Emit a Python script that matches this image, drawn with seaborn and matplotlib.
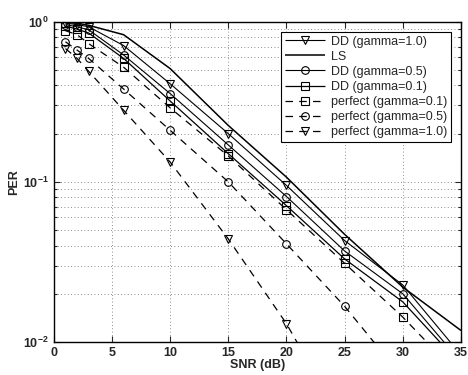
import numpy as np
import matplotlib
matplotlib.use("Agg")
import matplotlib.pyplot as plt
import seaborn as sns
from matplotlib.ticker import LogLocator, NullFormatter

sns.set_style("ticks")
plt.rcParams['font.family'] = ['Liberation Sans', 'DejaVu Sans']

snr = [1, 2, 3, 6, 10, 15, 20, 25, 30, 35]
dd_g10 = [0.98, 0.96, 0.93, 0.71, 0.41, 0.20, 0.095, 0.043, 0.0227, 0.0083]
ls = [0.99, 0.98, 0.95, 0.83, 0.51, 0.225, 0.107, 0.047, 0.022, 0.0118]
dd_g05 = [0.96, 0.93, 0.89, 0.62, 0.356, 0.17, 0.081, 0.037, 0.020, 0.0075]
dd_g01 = [0.94, 0.90, 0.85, 0.59, 0.32, 0.15, 0.071, 0.033, 0.0178, 0.0072]
pf_g01 = [0.88, 0.83, 0.73, 0.52, 0.29, 0.145, 0.067, 0.031, 0.0143, 0.006]
pf_g05 = [0.75, 0.665, 0.59, 0.38, 0.21, 0.10, 0.041, 0.0167, 0.006, 0.002]
pf_g10 = [0.68, 0.59, 0.49, 0.28, 0.133, 0.044, 0.013, 0.003, 0.0008, 0.0002]

labels = ["DD (gamma=1.0)", "LS", "DD (gamma=0.5)", "DD (gamma=0.1)",
          "perfect (gamma=0.1)", "perfect (gamma=0.5)", "perfect (gamma=1.0)"]
series = [dd_g10, ls, dd_g05, dd_g01, pf_g01, pf_g05, pf_g10]
markers = ["v", None, "o", "s", "s", "o", "v"]
solid = (0, ())
dashed = (0, (6, 5))
styles = [solid, solid, solid, solid, dashed, dashed, dashed]
widths = [0.8, 1.1, 0.8, 0.9, 0.9, 0.9, 0.9]

fig = plt.figure(figsize=(4.68, 3.75), dpi=100)
ax = fig.add_axes([0.115, 0.088, 0.870, 0.854])

for lab, vals, m, ls_, lw in zip(labels, series, markers, styles, widths):
    kw = dict(x=snr, y=vals, ax=ax, color="black", linewidth=lw,
              linestyle=ls_, label=lab)
    if m is not None:
        kw.update(marker=m, markersize=5.5, markerfacecolor="none",
                  markeredgecolor="black", markeredgewidth=0.8)
    sns.lineplot(**kw)

ax.set_yscale("log")
ax.set_xlim(0, 35)
ax.set_ylim(1e-2, 1)
ax.set_xticks(range(0, 36, 5))
ax.yaxis.set_major_locator(LogLocator(base=10, numticks=5))
ax.yaxis.set_minor_locator(LogLocator(base=10, subs=np.arange(2, 10), numticks=20))
ax.yaxis.set_minor_formatter(NullFormatter())

ax.grid(True, which="major", linestyle=(0, (1, 3)), color="black", linewidth=0.6, alpha=0.6)
ax.grid(True, which="minor", axis="y", linestyle=(0, (1, 3)), color="black", linewidth=0.6, alpha=0.6)

ax.tick_params(which="both", direction="in", top=True, right=True, labelsize=9,
               width=0.8)
ax.tick_params(which="major", length=4)
ax.tick_params(which="minor", length=2)
for lab in ax.get_xticklabels() + ax.get_yticklabels():
    lab.set_fontweight("bold")
for sp in ax.spines.values():
    sp.set_linewidth(1.0)
    sp.set_color("black")

ax.set_xlabel("SNR (dB)", fontsize=9, fontweight="bold", labelpad=0)
ax.set_ylabel("PER", fontsize=9, fontweight="bold", labelpad=2)

leg = ax.legend(loc="upper right", fontsize=9, handlelength=3.2, fancybox=False,
                framealpha=1, edgecolor="black", borderaxespad=0.8,
                borderpad=0.3, labelspacing=0.25, handletextpad=0.5)
leg.get_frame().set_linewidth(0.8)

fig.savefig("out.png", dpi=100)
